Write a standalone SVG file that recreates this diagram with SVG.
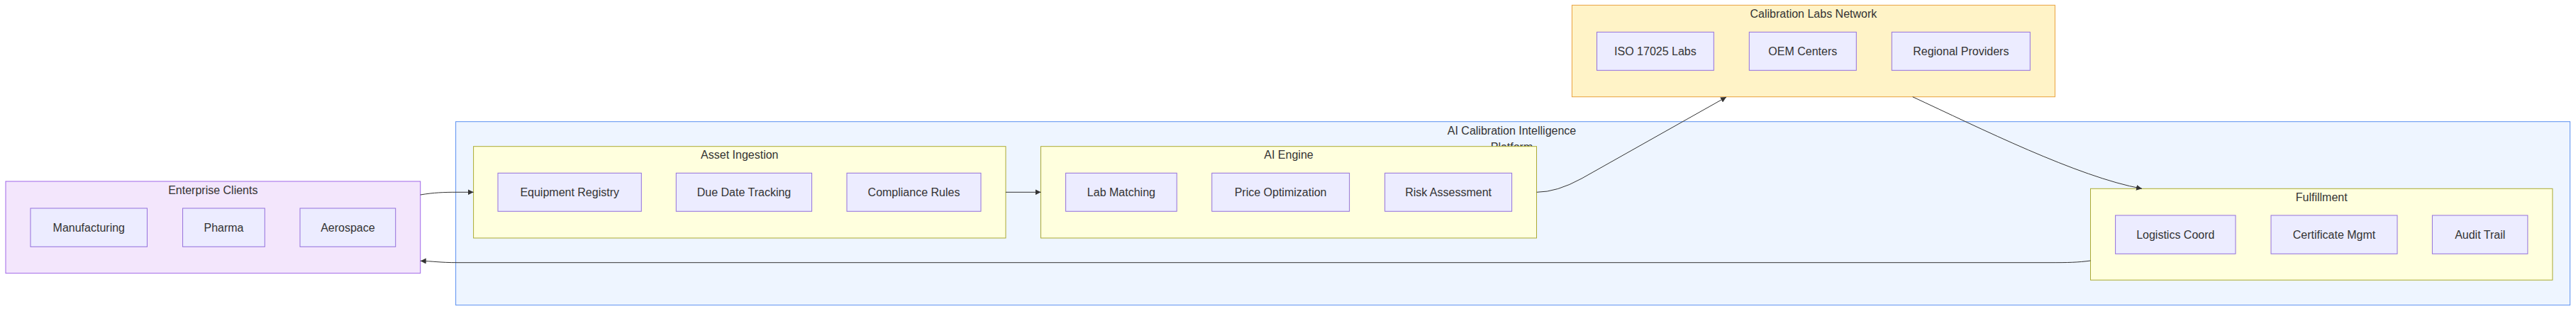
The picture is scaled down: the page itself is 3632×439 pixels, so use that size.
<svg xmlns="http://www.w3.org/2000/svg" width="3632" height="439" viewBox="0 0 3632 439">
<defs>
<style>
text{font-family:"Liberation Sans",Arial,sans-serif;font-size:16px;fill:#333;text-anchor:middle}
.node rect{fill:#ECECFF;stroke:#9370DB;stroke-width:1}
.yc{fill:#ffffde;stroke:#aaaa33;stroke-width:1}
.edge{fill:none;stroke:#333;stroke-width:1;marker-end:url(#arrow)}
</style>
<marker id="arrow" viewBox="0 0 10 10" refX="10" refY="5" markerUnits="userSpaceOnUse" markerWidth="8" markerHeight="8" orient="auto">
<path d="M0,0 L10,5 L0,10 z" fill="#333"/>
</marker>
</defs>
<rect width="3632" height="439" fill="#ffffff"/>

<g id="cluster-enterprise">
<rect x="8" y="256" width="584.7" height="129.7" fill="#f3e6fc" stroke="#a066e8" stroke-width="1"/>
<text x="300.3" y="274">Enterprise Clients</text>
</g>
<g id="node-manufacturing" class="node"><rect x="43" y="294" width="164.5" height="54.3"/><text x="125.3" y="327">Manufacturing</text></g>
<g id="node-pharma" class="node"><rect x="257.6" y="294" width="115.7" height="54.3"/><text x="315.5" y="327">Pharma</text></g>
<g id="node-aerospace" class="node"><rect x="423" y="294" width="134.7" height="54.3"/><text x="490.4" y="327">Aerospace</text></g>

<g id="cluster-platform">
<rect x="642.6" y="171.7" width="2981" height="259" fill="#eef5ff" stroke="#5a8ff0" stroke-width="1"/>
<text x="2131.5" y="189.5">AI Calibration Intelligence</text>
<text x="2131.5" y="212.5">Platform</text>
</g>

<g id="cluster-asset">
<rect class="yc" x="667.6" y="206.7" width="750.4" height="129.3"/>
<text x="1042.8" y="224.2">Asset Ingestion</text>
</g>
<g id="node-equipment" class="node"><rect x="702" y="244.3" width="202.3" height="54"/><text x="803.2" y="277">Equipment Registry</text></g>
<g id="node-duedate" class="node"><rect x="953.3" y="244.3" width="191.3" height="54"/><text x="1049" y="277">Due Date Tracking</text></g>
<g id="node-compliance" class="node"><rect x="1194" y="244.3" width="189" height="54"/><text x="1288.5" y="277">Compliance Rules</text></g>

<g id="cluster-ai">
<rect class="yc" x="1467.5" y="206.7" width="699" height="129.3"/>
<text x="1817" y="224.2">AI Engine</text>
</g>
<g id="node-lab" class="node"><rect x="1502.6" y="244.3" width="156.6" height="54"/><text x="1580.9" y="277">Lab Matching</text></g>
<g id="node-price" class="node"><rect x="1708.7" y="244.3" width="193.9" height="54"/><text x="1805.6" y="277">Price Optimization</text></g>
<g id="node-risk" class="node"><rect x="1952.6" y="244.3" width="179" height="54"/><text x="2042.1" y="277">Risk Assessment</text></g>

<g id="cluster-fulfillment">
<rect class="yc" x="2947.5" y="266.3" width="651.4" height="129"/>
<text x="3273.2" y="284">Fulfillment</text>
</g>
<g id="node-logistics" class="node"><rect x="2982.6" y="304" width="169.4" height="54.3"/><text x="3067.3" y="337">Logistics Coord</text></g>
<g id="node-certificate" class="node"><rect x="3202" y="304" width="178" height="54.3"/><text x="3291" y="337">Certificate Mgmt</text></g>
<g id="node-audit" class="node"><rect x="3429.4" y="304" width="134.5" height="54.3"/><text x="3496.7" y="337">Audit Trail</text></g>

<g id="cluster-labs">
<rect x="2216.4" y="7.3" width="681" height="129.4" fill="#fff3c7" stroke="#e9a03b" stroke-width="1"/>
<text x="2556.9" y="25">Calibration Labs Network</text>
</g>
<g id="node-iso" class="node"><rect x="2251.5" y="45.3" width="164.8" height="54"/><text x="2333.9" y="78">ISO 17025 Labs</text></g>
<g id="node-oem" class="node"><rect x="2466.3" y="45.3" width="151" height="54"/><text x="2541.8" y="78">OEM Centers</text></g>
<g id="node-regional" class="node"><rect x="2667.3" y="45.3" width="195" height="54"/><text x="2764.8" y="78">Regional Providers</text></g>

<g id="connectors">
<path class="edge" d="M592.7,275 C612,271.8 625,271.3 645,271.3 L667.6,271.3"/>
<path class="edge" d="M1418,271.3 L1467.5,271.3"/>
<path class="edge" d="M2166.7,271.3 Q2195,271.3 2230,252 L2434,137"/>
<path class="edge" d="M2696.7,136.7 C2790,180 2930,250 3020,266.3"/>
<path class="edge" d="M2947.5,368 C2930,370.5 2915,370.7 2890,370.7 L645,370.7 C620,370.7 610,368.6 592.7,368.3"/>
</g>
</svg>
